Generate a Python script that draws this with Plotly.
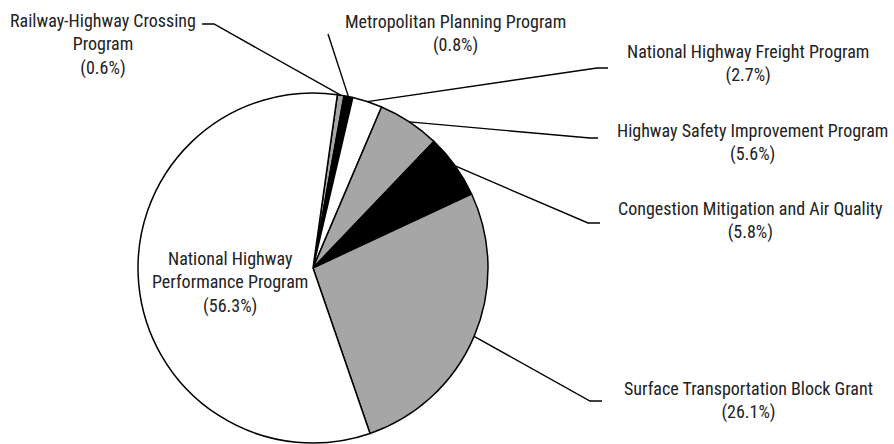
import math
import plotly.graph_objects as go

# Federal-aid highway program shares (percent of apportionment)
programs = [
    "Railway-Highway Crossing Program",
    "Metropolitan Planning Program",
    "National Highway Freight Program",
    "Highway Safety Improvement Program",
    "Congestion Mitigation and Air Quality",
    "Surface Transportation Block Grant",
    "National Highway Performance Program",
]
shares = [0.6, 0.8, 2.7, 5.6, 5.8, 26.1, 56.3]
fills = ["#a6a6a6", "#000000", "#ffffff", "#a6a6a6", "#000000", "#a6a6a6", "#ffffff"]

# Label text (line-broken) and label layout
label_lines = [
    ["Railway-Highway Crossing", "Program", "(0.6%)"],
    ["Metropolitan Planning Program", "(0.8%)"],
    ["National Highway Freight Program", "(2.7%)"],
    ["Highway Safety Improvement Program", "(5.6%)"],
    ["Congestion Mitigation and Air Quality", "(5.8%)"],
    ["Surface Transportation Block Grant", "(26.1%)"],
    ["National Highway", "Performance Program", "(56.3%)"],
]
label_xy = [(103, 45), (455, 33), (748, 64), (752, 142), (750, 220), (748, 400), (230, 282)]
# leader-line bends (pixel points after the slice anchor); None = label sits inside
leader_bends = [
    [(214, 24), (202, 24)],
    [(328, 34)],
    [(597, 68), (608, 68)],
    [(590, 138), (598, 138)],
    [(588, 223), (600, 223)],
    [(590, 401), (602, 401)],
    None,
]

W, H = 894, 444
CX, CY, R = 313, 268, 175
ROTATION = 8

fig = go.Figure(
    go.Pie(
        labels=programs,
        values=shares,
        sort=False,
        direction="clockwise",
        rotation=ROTATION,
        textinfo="none",
        hoverinfo="label+percent",
        marker=dict(colors=fills, line=dict(color="#000000", width=1.5)),
        domain=dict(x=[(CX - R) / W, (CX + R) / W], y=[(H - CY - R) / H, (H - CY + R) / H]),
        showlegend=False,
    )
)

def to_paper(px, py):
    return px / W, 1 - py / H

total = sum(shares)
cum = 0.0
shapes = []
annotations = []
font = dict(family="Roboto Condensed, Liberation Sans Narrow, sans-serif", size=18, color="#222222")
for name, val, lines, (lx, ly), bends in zip(programs, shares, label_lines, label_xy, leader_bends):
    mid = ROTATION + (cum + val / 2) / total * 360
    cum += val
    if bends is not None:
        ax = CX + R * math.sin(math.radians(mid))
        ay = CY - R * math.cos(math.radians(mid))
        pts = [to_paper(ax, ay)] + [to_paper(*b) for b in bends]
        path = "M " + " L ".join(f"{x:.5f},{y:.5f}" for x, y in pts)
        shapes.append(dict(type="path", path=path, xref="paper", yref="paper",
                           line=dict(color="#000000", width=1.4)))
    x, y = to_paper(lx, ly)
    annotations.append(dict(x=x, y=y, xref="paper", yref="paper", text="<br>".join(lines),
                            showarrow=False, xanchor="center", yanchor="middle",
                            align="center", font=font))

fig.update_layout(
    width=W, height=H,
    margin=dict(l=0, r=0, t=0, b=0),
    paper_bgcolor="#ffffff",
    plot_bgcolor="#ffffff",
    shapes=shapes,
    annotations=annotations,
)

fig.write_html("out.html")
